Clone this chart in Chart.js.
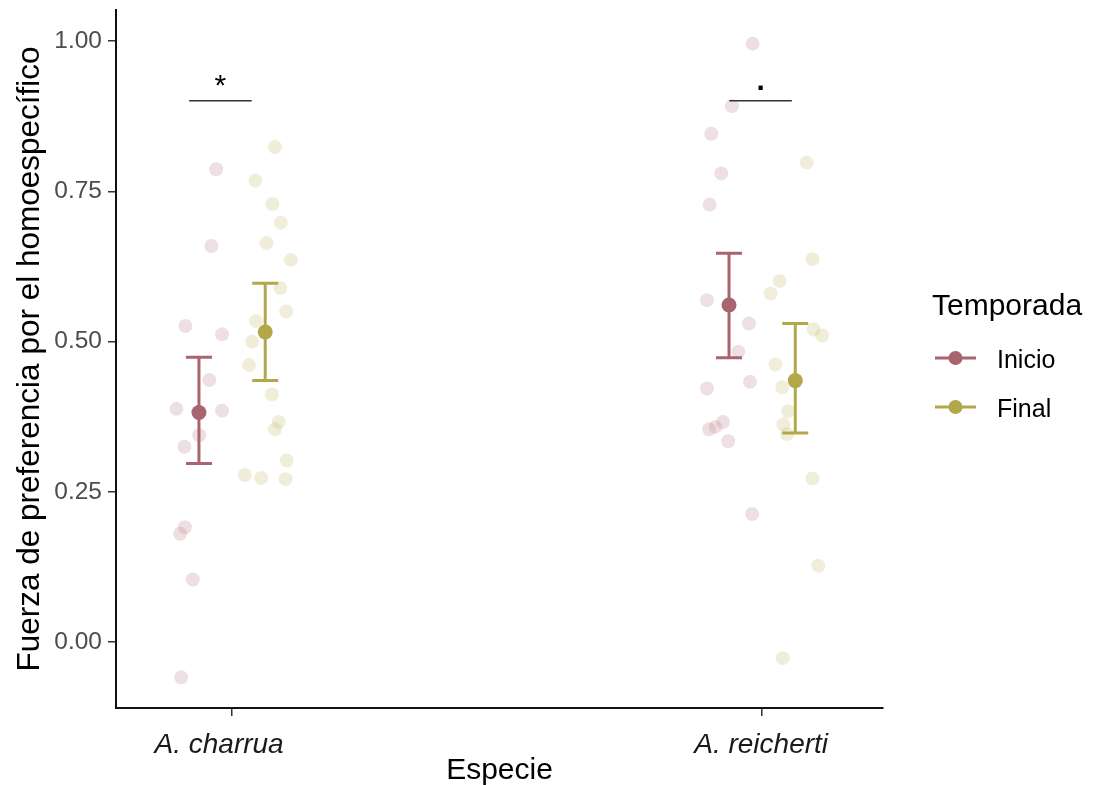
<!DOCTYPE html>
<html>
<head>
<meta charset="utf-8">
<script src="https://cdn.jsdelivr.net/npm/chart.js@4.4.1/dist/chart.umd.min.js"></script>
<style>
html,body{margin:0;padding:0;background:#fff;}
#wrap{width:1096px;height:785px;position:relative;}
</style>
</head>
<body>
<div id="wrap"><canvas id="c" width="1096" height="785"></canvas></div>
<script>
// ---- data ----
const categories = ['A. charrua', 'A. reicherti'];
const categoryPos = [1, 2];
const seasons = ['Inicio', 'Final'];
const dodgeOffset = [-0.0625, 0.0625];
const yTicks = [0, 0.25, 0.5, 0.75, 1.0];

const inicioCharruaY = [0.787,0.659,0.526,0.512,0.436,0.388,0.385,0.344,0.325,0.191,0.180,0.104,-0.059];
const inicioCharruaX = [0.970,0.961,0.912,0.981,0.957,0.895,0.981,0.938,0.910,0.911,0.902,0.926,0.904];
const finalCharruaY = [0.824,0.768,0.729,0.698,0.664,0.636,0.589,0.550,0.534,0.500,0.461,0.412,0.366,0.354,0.302,0.278,0.273,0.271];
const finalCharruaX = [1.081,1.044,1.076,1.092,1.065,1.111,1.091,1.102,1.045,1.038,1.032,1.075,1.088,1.081,1.103,1.024,1.055,1.101];
const inicioReichertiY = [0.996,0.892,0.846,0.780,0.728,0.569,0.530,0.483,0.433,0.422,0.366,0.358,0.354,0.334,0.213];
const inicioReichertiX = [1.982,1.943,1.904,1.923,1.901,1.896,1.975,1.955,1.977,1.896,1.926,1.912,1.900,1.936,1.981];
const finalReichertiY = [0.798,0.637,0.601,0.580,0.520,0.510,0.462,0.424,0.384,0.362,0.346,0.272,0.127,-0.027];
const finalReichertiX = [2.084,2.095,2.033,2.016,2.097,2.113,2.025,2.038,2.049,2.040,2.047,2.095,2.106,2.039];

// mean and error bar per species: [charrua, reicherti]
const inicioMean  = [0.382, 0.561];
const inicioUpper = [0.474, 0.647];
const inicioLower = [0.297, 0.473];
const finalMean   = [0.516, 0.435];
const finalUpper  = [0.597, 0.530];
const finalLower  = [0.435, 0.348];

// significance annotations
const sigLabels = ['*', '.'];
const sigY = [0.901, 0.901];
const sigXStart = [0.919, 1.938];
const sigXEnd = [1.037, 2.056];

// ---- styles ----
const colInicio = '#A8646F';
const colFinal = '#B2A84A';
const fadeInicio = 'rgba(168,100,111,0.2)';
const fadeFinal = 'rgba(178,168,74,0.2)';
const FONT = '"Liberation Sans", Arial, sans-serif';

function pts(xs, ys){ return ys.map((y,i)=>({x:xs[i], y:y})); }

const overlay = {
  id:'overlay',
  afterDatasetsDraw(chart){
    const ctx = chart.ctx, xs = chart.scales.x, ys = chart.scales.y;
    const groups = [
      {mean:inicioMean, up:inicioUpper, lo:inicioLower, col:colInicio, off:dodgeOffset[0]},
      {mean:finalMean, up:finalUpper, lo:finalLower, col:colFinal, off:dodgeOffset[1]}
    ];
    ctx.save();
    groups.forEach(g=>{
      categoryPos.forEach((c,i)=>{
        const px = xs.getPixelForValue(c + g.off);
        const pu = ys.getPixelForValue(g.up[i]);
        const pl = ys.getPixelForValue(g.lo[i]);
        const pm = ys.getPixelForValue(g.mean[i]);
        ctx.strokeStyle = g.col; ctx.lineWidth = 3; ctx.lineCap='butt';
        ctx.beginPath();
        ctx.moveTo(px, pu); ctx.lineTo(px, pl);
        ctx.moveTo(px-13, pu); ctx.lineTo(px+13, pu);
        ctx.moveTo(px-13, pl); ctx.lineTo(px+13, pl);
        ctx.stroke();
        ctx.fillStyle = g.col;
        ctx.beginPath(); ctx.arc(px, pm, 7.5, 0, Math.PI*2); ctx.fill();
      });
    });
    // significance
    ctx.strokeStyle = '#333'; ctx.lineWidth = 1.5;
    sigLabels.forEach((lab,i)=>{
      const x1 = xs.getPixelForValue(sigXStart[i]);
      const x2 = xs.getPixelForValue(sigXEnd[i]);
      const y = ys.getPixelForValue(sigY[i]);
      ctx.beginPath(); ctx.moveTo(x1,y); ctx.lineTo(x2,y); ctx.stroke();
      ctx.fillStyle = '#000';
      ctx.textAlign = 'center'; ctx.textBaseline = 'alphabetic';
      if (lab === '*') { ctx.font = '30px ' + FONT; ctx.fillText(lab, (x1+x2)/2, y-6); }
      else { ctx.font = 'bold 30px ' + FONT; ctx.fillText(lab, (x1+x2)/2, y-11); }
    });
    ctx.restore();
  },
  afterDraw(chart){
    const ctx = chart.ctx, xs = chart.scales.x, area = chart.chartArea;
    ctx.save();
    // x category labels
    ctx.fillStyle = '#1a1a1a';
    ctx.font = 'italic 28px ' + FONT;
    ctx.textAlign = 'center'; ctx.textBaseline = 'alphabetic';
    const shift = [-13, -1];
    categories.forEach((lab,i)=>{
      ctx.fillText(lab, xs.getPixelForValue(categoryPos[i]) + shift[i], area.bottom + 45);
    });
    // x title
    ctx.fillStyle = '#000';
    ctx.font = '30px ' + FONT;
    ctx.fillText('Especie', (area.left+area.right)/2, area.bottom + 71);
    // y title
    ctx.save();
    ctx.translate(30, (area.top+area.bottom)/2);
    ctx.rotate(-Math.PI/2);
    ctx.textBaseline = 'middle';
    ctx.font = '31.5px ' + FONT;
    ctx.fillText('Fuerza de preferencia por el homoespecífico', 0, 0);
    ctx.restore();
    // legend
    ctx.textAlign = 'left'; ctx.textBaseline = 'alphabetic';
    ctx.font = '30px ' + FONT;
    ctx.fillText('Temporada', 932, 315);
    const items = [{lab:seasons[0], col:colInicio, y:358}, {lab:seasons[1], col:colFinal, y:407}];
    items.forEach(it=>{
      ctx.strokeStyle = it.col; ctx.lineWidth = 3;
      ctx.beginPath(); ctx.moveTo(935, it.y); ctx.lineTo(976, it.y); ctx.stroke();
      ctx.fillStyle = it.col;
      ctx.beginPath(); ctx.arc(955.5, it.y, 7, 0, Math.PI*2); ctx.fill();
      ctx.fillStyle = '#000';
      ctx.font = '25px ' + FONT;
      ctx.fillText(it.lab, 997, it.y + 10);
    });
    ctx.restore();
  }
};

new Chart(document.getElementById('c'), {
  type: 'scatter',
  data: {
    datasets: [
      {label:'Inicio', data: pts(inicioCharruaX, inicioCharruaY).concat(pts(inicioReichertiX, inicioReichertiY)),
       backgroundColor: fadeInicio, borderWidth:0, pointRadius:7, pointHoverRadius:7},
      {label:'Final', data: pts(finalCharruaX, finalCharruaY).concat(pts(finalReichertiX, finalReichertiY)),
       backgroundColor: fadeFinal, borderWidth:0, pointRadius:7, pointHoverRadius:7}
    ]
  },
  options: {
    responsive:false, animation:false,
    layout:{padding:{top:10, right:213, left:0, bottom:0}},
    plugins:{legend:{display:false}, tooltip:{enabled:false}},
    scales:{
      x:{type:'linear', min:0.781, max:2.228,
         afterBuildTicks: s => { s.ticks = categoryPos.map(v=>({value:v})); },
         afterFit: s => { s.height = 77; s.paddingLeft = 0; s.paddingRight = 0; },
         ticks:{display:false},
         grid:{display:true, drawOnChartArea:false, drawTicks:true, tickLength:8, color:'#333', lineWidth:1.5},
         border:{display:true, color:'#111', width:2}},
      y:{type:'linear', min:-0.11, max:1.052,
         afterBuildTicks: s => { s.ticks = yTicks.map(v=>({value:v})); },
         afterFit: s => { s.width = 116; s.paddingTop = 0; s.paddingBottom = 0; },
         ticks:{callback: v => v.toFixed(2), font:{family:FONT, size:24.5}, color:'#4D4D4D', padding:6},
         grid:{display:true, drawOnChartArea:false, drawTicks:true, tickLength:8, color:'#333', lineWidth:1.5},
         border:{display:true, color:'#111', width:2}}
    }
  },
  plugins:[overlay]
});
</script>
</body>
</html>
